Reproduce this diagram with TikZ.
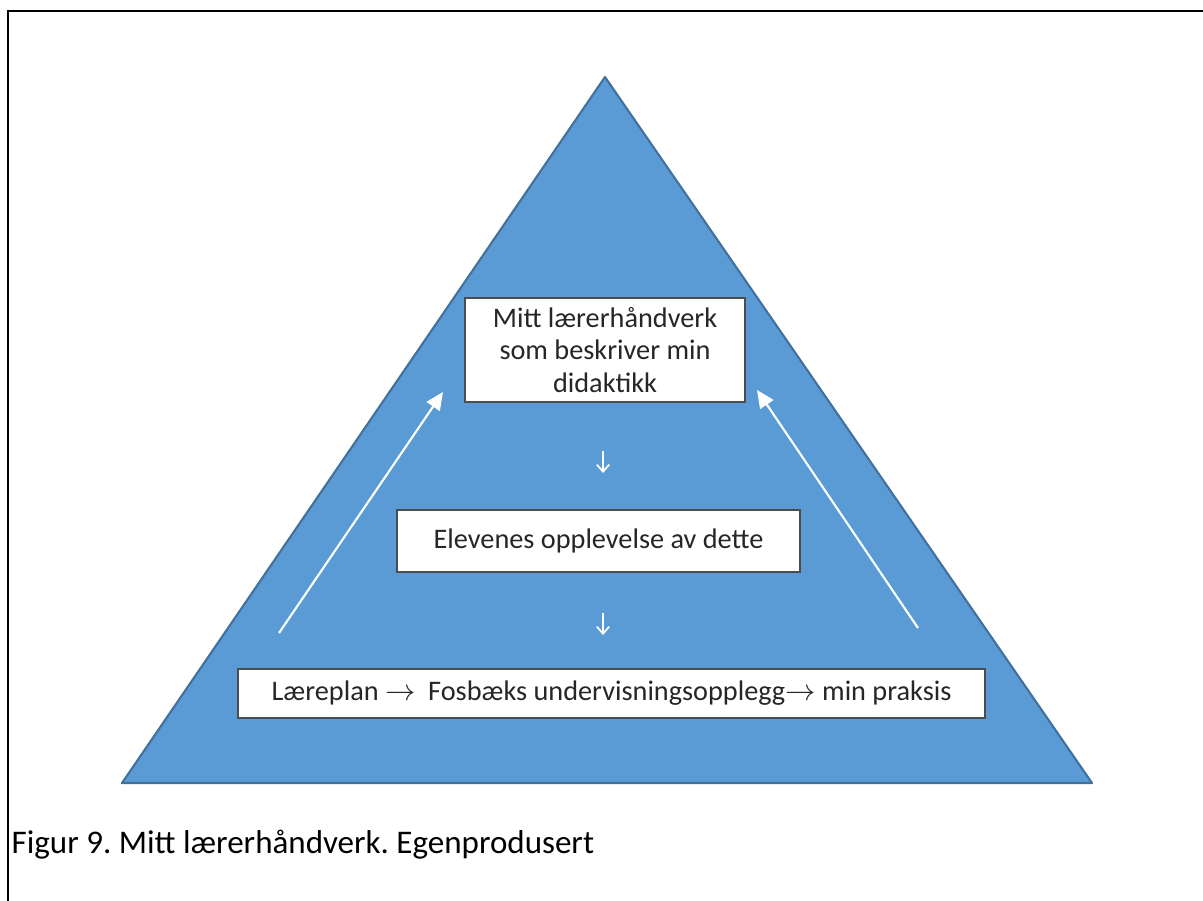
\documentclass[tikz,border=0pt]{standalone}
\usepackage{fontspec}
\setmainfont{Carlito}
\frenchspacing
\usetikzlibrary{arrows.meta}
\definecolor{pyramid}{HTML}{5B9BD5}
\definecolor{pyramidedge}{HTML}{41719C}

\begin{document}
\begin{tikzpicture}[thick,x=0.02cm,y=-0.02cm,
  box/.style={draw=black!70,fill=white,line width=1.2pt,align=center,
    text=black!85,inner sep=2pt,font=\fontsize{16.1}{18.6}\selectfont},
  up/.style={white,line width=1.2pt,-{Triangle[length=10pt,width=9pt]}},
  down/.style={white,line width=1pt,-{Straight Barb[length=4pt,width=7pt]}}]
\useasboundingbox (0,0) rectangle (1203,901);
% frame and pyramid
\draw[line width=1.6pt] (8,901) -- (8,11) -- (1203,11);
\draw[fill=pyramid,draw=pyramidedge,line width=1.2pt,line join=round]
   (605,77) -- (1092,783) -- (122,783) -- cycle;
\path[draw] % the three boxes
   node[box,minimum width=5.6cm,minimum height=2.08cm] (1) at (605,350)
      {Mitt lærerhåndverk\\som beskriver min\\didaktikk}
   node[box,minimum width=8.06cm,minimum height=1.24cm] (2) at (598.5,541)
      {Elevenes opplevelse av dette}
   node[box,minimum width=14.94cm,minimum height=0.98cm] (3) at (611.5,693.5)
      {Læreplan $\rightarrow$\ \ Fosbæks undervisningsopplegg$\rightarrow$ min praksis};
\node[anchor=base west,inner sep=0pt,font=\fontsize{18.8}{22}\selectfont] (4) at (11,853)
   {Figur 9. Mitt lærerhåndverk. Egenprodusert};

\coordinate (d1) at (603,451);
\coordinate (d2) at (603,473);
\coordinate (d3) at (603,613);
\coordinate (d4) at (603,635);
\coordinate (la) at (279,633);
\coordinate (lb) at (443,392);
\coordinate (ra) at (918,628);
\coordinate (rb) at (757,390);

\draw[down] (d1) -- (d2);
\draw[down] (d3) -- (d4);
\draw[up] (la) -- (lb);
\draw[up] (ra) -- (rb);
\end{tikzpicture}
\end{document}
